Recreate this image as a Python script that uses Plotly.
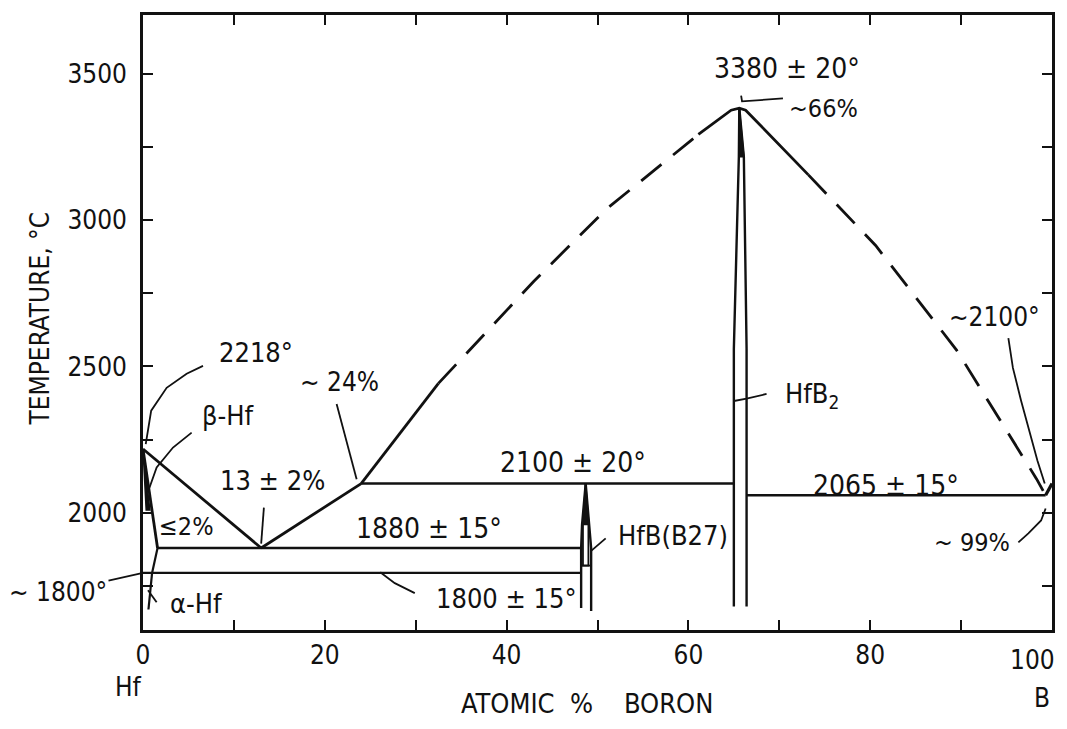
import plotly.graph_objects as go

# ---------------- data : (atomic % boron, temperature in deg C) ----------------
hf_liq_x = [0, 13]
hf_liq_t = [2218, 1880]
beta_solidus_x = [0, 1.6]
beta_solidus_t = [2218, 1880]
beta_wedge_x = [0, 0.75, 0.35, 0]
beta_wedge_t = [2218, 2010, 2010, 2218]
ab_trans_x = [1.6, 1.0]
ab_trans_t = [1880, 1795]
alpha_solvus_x = [1.0, 0.6]
alpha_solvus_t = [1795, 1670]

eut_liq_x = [13, 24]
eut_liq_t = [1880, 2100]
liq_solid_a_x = [24, 32.5]
liq_solid_a_t = [2100, 2442]
liq_dash_a_x = [32.5, 43, 51, 61.1]
liq_dash_a_t = [2442, 2791, 3038, 3292]
liq_peak_x = [61.1, 64.7, 65.6, 66.3, 73.2]
liq_peak_t = [3292, 3375, 3382, 3375, 3154]
liq_dash_b_x = [73.2, 80.6, 89.5, 98.3, 99.3]
liq_dash_b_t = [3154, 2913, 2556, 2116, 2060]
b_liq_x = [99.3, 100]
b_liq_t = [2060, 2100]

iso_1880_x = [1.6, 48.2]
iso_1880_t = [1880, 1880]
iso_1800_x = [0, 48.2]
iso_1800_t = [1795, 1795]
iso_2100_x = [24, 65.0]
iso_2100_t = [2100, 2100]
iso_2065_x = [66.4, 99.3]
iso_2065_t = [2060, 2060]

hfb_left_x = [48.7, 48.3, 48.2, 48.2]
hfb_left_t = [2100, 1960, 1880, 1675]
hfb_right_x = [48.7, 49.1, 49.3, 49.3]
hfb_right_t = [2100, 1960, 1880, 1665]
hfb_spike_x = [48.7, 48.35, 49.05, 48.7]
hfb_spike_t = [2100, 1960, 1960, 2100]
hfb_inner_x = [48.4, 48.4, 49.0, 49.0]
hfb_inner_t = [1960, 1820, 1820, 1960]
hfb_bar_x = [48.2, 49.3]
hfb_bar_t = [1820, 1820]

hfb2_left_x = [65.0, 65.0, 65.55, 65.6]
hfb2_left_t = [1680, 2560, 3216, 3382]
hfb2_right_x = [66.4, 66.4, 66.1, 65.6]
hfb2_right_t = [1680, 2560, 3216, 3382]
hfb2_fill_x = [65.55, 66.1, 65.6, 65.55]
hfb2_fill_t = [3216, 3216, 3382, 3216]

# leader lines for the labels
lead_2218_x = [0.3, 0.9, 2.6, 4.8, 6.6]
lead_2218_t = [2235, 2349, 2427, 2475, 2502]
lead_bhf_x = [0.7, 1.5, 3.3, 5.35]
lead_bhf_t = [2085, 2155, 2223, 2274]
lead_13_x = [13.3, 13.0]
lead_13_t = [2018, 1895]
lead_24_x = [21.3, 23.5]
lead_24_t = [2372, 2115]
lead_1800_x = [26.1, 27.7, 29.9]
lead_1800_t = [1797, 1760, 1726]
lead_hfb_x = [49.3, 50.9]
lead_hfb_t = [1870, 1913]
lead_hfb2_x = [65.0, 66.4, 68.6]
lead_hfb2_t = [2382, 2390, 2406]
lead_66_x = [65.8, 65.9, 70.4]
lead_66_t = [3425, 3405, 3415]
lead_2100_x = [95.2, 95.7, 96.6, 97.6, 98.4, 99.2]
lead_2100_t = [2597, 2495, 2383, 2270, 2178, 2100]
lead_99_x = [96.3, 97.4, 98.8, 99.3]
lead_99_t = [1899, 1930, 1974, 2015]
lead_alpha_x = [1.5, 0.55]
lead_alpha_t = [1695, 1736]

x_major = [0, 20, 40, 60, 80]
x_major_labels = ["0", "20", "40", "60", "80"]
x_minor = [10, 30, 50, 70, 90, 100]
y_major = [2000, 2500, 3000, 3500]
y_major_labels = ["2000", "2500", "3000", "3500"]
y_minor = [1750, 2250, 2750, 3250]

FONT = "Liberation Sans Narrow, DejaVu Sans Condensed, Arial Narrow, sans-serif"
INK = "#111111"

fig = go.Figure()


def line(xs, ts, width=2.8, dash=None):
    fig.add_trace(go.Scatter(x=xs, y=ts, mode="lines",
                             line=dict(color=INK, width=width, dash=dash),
                             hoverinfo="skip", showlegend=False))


def filled(xs, ts):
    fig.add_trace(go.Scatter(x=xs, y=ts, mode="lines", fill="toself",
                             fillcolor=INK, line=dict(color=INK, width=1.5),
                             hoverinfo="skip", showlegend=False))


DASH = "26px,15px"
line(hf_liq_x, hf_liq_t)
line(beta_solidus_x, beta_solidus_t)
filled(beta_wedge_x, beta_wedge_t)
line(ab_trans_x, ab_trans_t, 2.2)
line(alpha_solvus_x, alpha_solvus_t, 2.2)
line(eut_liq_x, eut_liq_t)
line(liq_solid_a_x, liq_solid_a_t)
line(liq_dash_a_x, liq_dash_a_t, dash=DASH)
line(liq_peak_x, liq_peak_t)
line(liq_dash_b_x, liq_dash_b_t, dash=DASH)
line(b_liq_x, b_liq_t, 3.2)
line(iso_1880_x, iso_1880_t, 2.4)
line(iso_1800_x, iso_1800_t, 2.4)
line(iso_2100_x, iso_2100_t, 2.4)
line(iso_2065_x, iso_2065_t, 2.4)
line(hfb_left_x, hfb_left_t, 2.4)
line(hfb_right_x, hfb_right_t, 2.4)
filled(hfb_spike_x, hfb_spike_t)
line(hfb_inner_x, hfb_inner_t, 1.8)
line(hfb_bar_x, hfb_bar_t, 1.8)
line(hfb2_left_x, hfb2_left_t, 2.4)
line(hfb2_right_x, hfb2_right_t, 2.4)
filled(hfb2_fill_x, hfb2_fill_t)

for lx, lt in [(lead_2218_x, lead_2218_t), (lead_bhf_x, lead_bhf_t), (lead_13_x, lead_13_t),
               (lead_24_x, lead_24_t), (lead_1800_x, lead_1800_t), (lead_hfb_x, lead_hfb_t),
               (lead_hfb2_x, lead_hfb2_t), (lead_66_x, lead_66_t), (lead_2100_x, lead_2100_t),
               (lead_99_x, lead_99_t), (lead_alpha_x, lead_alpha_t)]:
    line(lx, lt, 1.8)

labels = [
    ("3380 ± 20°", 70.9, 3516, 28, "center"),
    ("~66%", 74.9, 3380, 25, "center"),
    ("~2100°", 93.7, 2669, 26, "center"),
    ("HfB<sub>2</sub>", 70.4, 2400, 27, "left"),
    ("2065 ± 15°", 81.7, 2093, 28, "center"),
    ("~ 99%", 91.2, 1899, 25, "center"),
    ("2100 ± 20°", 47.3, 2172, 28, "center"),
    ("1880 ± 15°", 31.5, 1947, 28, "center"),
    ("1800 ± 15°", 40.0, 1709, 27, "center"),
    ("HfB(B27)", 52.0, 1923, 27, "left"),
    ("~ 24%", 21.6, 2447, 26, "center"),
    ("13 ± 2%", 14.2, 2110, 27, "center"),
    ("2218°", 12.4, 2546, 27, "center"),
    ("β-Hf", 9.4, 2332, 27, "center"),
    ("≤2%", 4.8, 1954, 25, "center"),
    ("α-Hf", 5.9, 1692, 27, "center"),
]
for text, x, t, size, anchor in labels:
    fig.add_annotation(x=x, y=t, xref="x", yref="y", text=text, showarrow=False,
                       xanchor=anchor, yanchor="middle",
                       font=dict(family=FONT, size=size, color=INK))

# labels outside the frame
fig.add_annotation(x=0, y=1795, xref="x", yref="y", text="~ 1800°", showarrow=True,
                   arrowhead=0, arrowwidth=1.8, arrowcolor=INK, ax=-85, ay=19,
                   font=dict(family=FONT, size=26, color=INK))


def outside(text, x, y, size, angle=0):
    fig.add_annotation(x=x, y=y, xref="paper", yref="paper", text=text, textangle=angle,
                       showarrow=False, xanchor="center", yanchor="middle",
                       font=dict(family=FONT, size=size, color=INK))


outside("TEMPERATURE, °C", -0.113, 0.507, 26, -90)
outside("ATOMIC\u00a0 %\u00a0\u00a0\u00a0 BORON", 0.488, -0.119, 27)
outside("Hf", -0.0164, -0.0924, 26)
outside("100", 0.979, -0.0486, 26)
outside("B", 0.989, -0.111, 26)

axis_common = dict(showgrid=False, zeroline=False, showline=True, linecolor=INK,
                   linewidth=2.6, mirror="ticks", ticks="inside", ticklen=10,
                   tickwidth=2, tickcolor=INK,
                   tickfont=dict(family=FONT, size=26, color=INK))
fig.update_xaxes(range=[0, 100], tickmode="array", tickvals=x_major, ticktext=x_major_labels,
                 ticklabelstandoff=0,
                 minor=dict(tickmode="array", tickvals=x_minor, ticks="inside", ticklen=10,
                            tickwidth=2, tickcolor=INK, showgrid=False),
                 **axis_common)
fig.update_yaxes(range=[1600, 3700], tickmode="array", tickvals=y_major, ticktext=y_major_labels,
                 ticklabelstandoff=8,
                 minor=dict(tickmode="array", tickvals=y_minor, ticks="inside", ticklen=10,
                            tickwidth=2, tickcolor=INK, showgrid=False),
                 **axis_common)

# the page body adds an 8px margin: keep the figure inside the window and place the
# frame 8px up/left so that it lands where the reference has it
fig.update_layout(width=1051, height=713, margin=dict(l=135, r=4, t=5, b=91),
                  paper_bgcolor="white", plot_bgcolor="white")

fig.write_html("out.html")
